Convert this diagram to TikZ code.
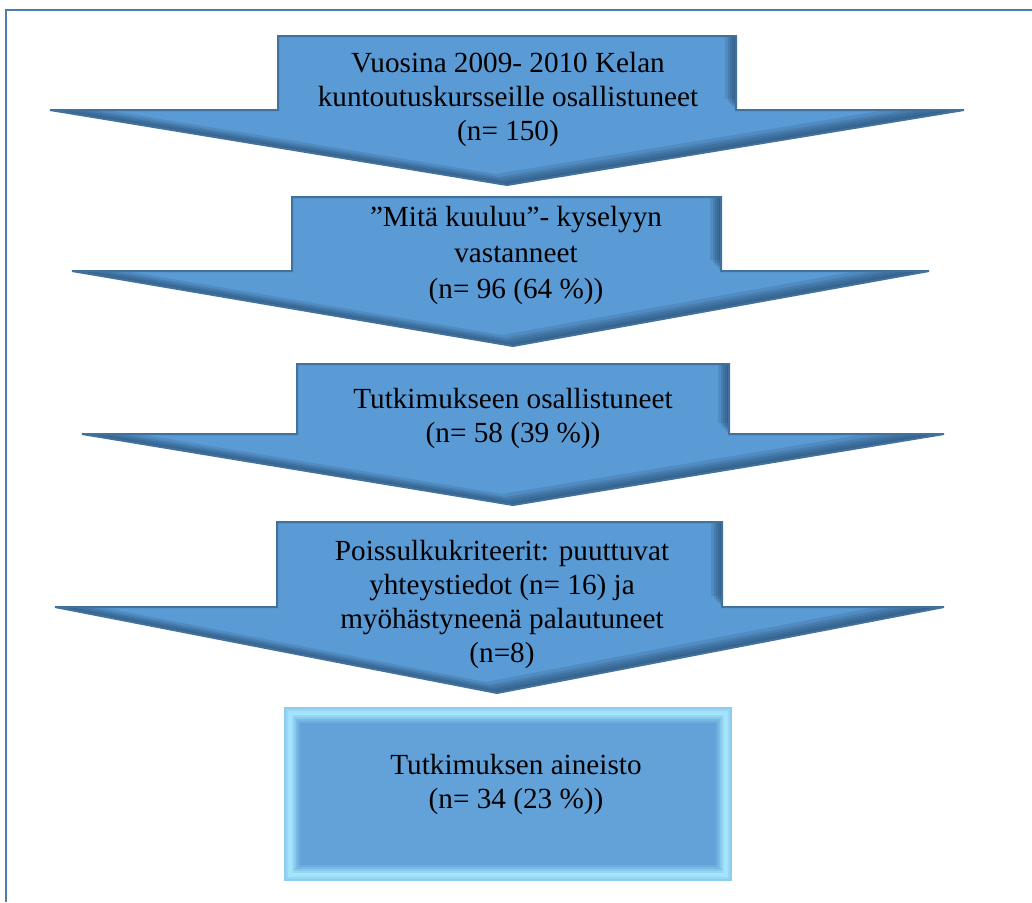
\documentclass[tikz,border=0pt]{standalone}
\usepackage{fontspec}
\setmainfont{Liberation Serif}
\usepackage{tikz}

\definecolor{stageblue}{HTML}{5B9BD5}
\definecolor{stageedge}{HTML}{41719C}
\definecolor{stageshade}{HTML}{1F3F60}
\definecolor{framecol}{HTML}{4F7BAA}
\definecolor{boxcyan}{HTML}{A6E6FC}

% outline of a down arrow: shaft left, shaft right, top, shoulder, wing left, wing right, tip x, tip y
\newcommand{\stagepath}[8]{(#1,#3) -- (#2,#3) -- (#2,#4) -- (#6,#4) -- (#7,#8) -- (#5,#4) -- (#1,#4) -- cycle}
\newcommand{\stagearrow}[8]{%
  \fill[stageblue] \stagepath{#1}{#2}{#3}{#4}{#5}{#6}{#7}{#8};
  \begin{scope}
    \clip \stagepath{#1}{#2}{#3}{#4}{#5}{#6}{#7}{#8};
    \foreach \sh in {2,4,6,8,11}
      \fill[stageshade, opacity=0.17, even odd rule, shift={(-\sh,-\sh)}]
        (-100,-100) rectangle (1200,1100) \stagepath{#1}{#2}{#3}{#4}{#5}{#6}{#7}{#8};
  \end{scope}
  \draw[stageedge, line width=1pt, line join=miter] \stagepath{#1}{#2}{#3}{#4}{#5}{#6}{#7}{#8};
}

\begin{document}
\begin{tikzpicture}[x=0.5pt, y=-0.5pt,
    stagetext/.style={align=center, inner sep=0pt, font=\fontsize{14.6}{17}\selectfont},
    frameline/.style={draw=framecol, line width=1.25pt}]
    \useasboundingbox (0,0) rectangle (1032,902);
    \draw[frameline] (6,902) -- (6,10) -- (1032,10);

    % the four stages
    \stagearrow{278}{736}{36}{110}{50}{964}{507}{185}
    \stagearrow{292}{721}{197}{271}{72}{929}{513}{346}
    \stagearrow{297}{729}{364}{434}{82}{944}{513}{505}
    \stagearrow{277}{722}{522}{607}{55}{944}{497}{693}

    % final box
    \foreach \i/\c in {0/65, 2/80, 4/95, 6/100, 8/80, 10/60, 12/40, 14/22, 16/10}
        \fill[boxcyan!\c!stageblue] (284+\i,707+\i) rectangle (732-\i,881-\i);

    \node[stagetext] (vuosina) at (508,99) {Vuosina 2009- 2010 Kelan\\kuntoutuskursseille osallistuneet\\(n= 150)};
    \node[stagetext, font=\fontsize{14.6}{18}\selectfont] (kysely) at (516,255) {”Mitä kuuluu”- kyselyyn\\vastanneet\\(n= 96 (64 \%))};
    \node[stagetext] (osallistuneet) at (513,418) {Tutkimukseen osallistuneet\\(n= 58 (39 \%))};
    \node[stagetext] (poissulku) at (502,604) {Poissulkukriteerit: puuttuvat\\yhteystiedot (n= 16) ja\\myöhästyneenä palautuneet\\(n=8)};
    \node[stagetext] (aineisto) at (516,784) {Tutkimuksen aineisto\\(n= 34 (23 \%))};
\end{tikzpicture}
\end{document}
